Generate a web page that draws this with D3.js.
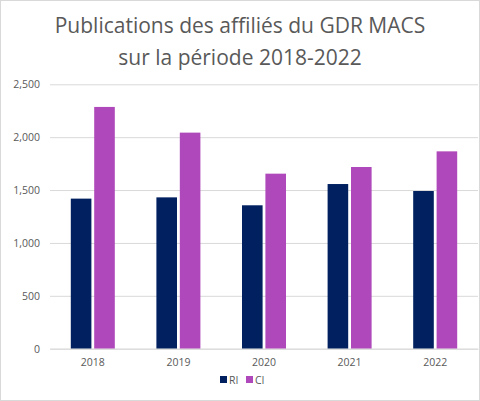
<!DOCTYPE html>
<html><head><meta charset="utf-8">
<script src="https://cdn.jsdelivr.net/npm/d3@7"></script>
<style>body{margin:0;background:#fff;font-family:"Open Sans",sans-serif;}</style>
</head><body><div id="chart"></div>
<script>
const years = ["2018", "2019", "2020", "2021", "2022"];
const ri = [1419, 1431, 1356, 1557, 1491];
const ci = [2286, 2043, 1655, 1718, 1866];
const yTicks = [0, 500, 1000, 1500, 2000, 2500];
const seriesNames = ["RI", "CI"];
const colors = ["#002060", "#AF48BA"];

const width = 480, height = 401;
const marginLeft = 50, marginRight = 2, marginTop = 84.3, bottomY = 348.7;

const svg = d3.select("#chart").append("svg")
  .attr("width", width).attr("height", height);

svg.append("rect").attr("x", 0.5).attr("y", 0.5)
  .attr("width", width - 1).attr("height", height - 1)
  .attr("fill", "#fff").attr("stroke", "#d9d9d9");

svg.append("text").attr("x", 240).attr("y", 33)
  .attr("text-anchor", "middle").attr("fill", "#595959")
  .attr("font-size", 21).text("Publications des affiliés du GDR MACS");
svg.append("text").attr("x", 240).attr("y", 65)
  .attr("text-anchor", "middle").attr("fill", "#595959")
  .attr("font-size", 21).text("sur la période 2018-2022");

const x = d3.scaleBand().domain(years).range([marginLeft, width - marginRight]);
const x1 = d3.scaleBand().domain(seriesNames).range([0, 44]).paddingInner(0.12);
const y = d3.scaleLinear().domain([0, 2500]).range([bottomY, marginTop]);

svg.append("g")
  .attr("transform", `translate(${marginLeft},0)`)
  .call(d3.axisLeft(y).tickValues(yTicks).tickSize(0).tickPadding(10))
  .call(g => g.select(".domain").remove())
  .call(g => g.selectAll(".tick line").clone()
    .attr("x2", width - marginLeft - marginRight).attr("stroke", "#d9d9d9"))
  .call(g => g.selectAll("text").attr("fill", "#595959").attr("font-size", 10.5)
    .attr("font-family", "Open Sans"));

const data = years.map((yr, i) => ({ yr, vals: [ri[i], ci[i]] }));
svg.append("g").selectAll("g").data(data).join("g")
  .attr("transform", d => `translate(${x(d.yr) + x.bandwidth() / 2 - 22},0)`)
  .selectAll("rect").data(d => d.vals.map((v, k) => ({ k, v })))
  .join("rect")
  .attr("x", d => x1(seriesNames[d.k]))
  .attr("width", x1.bandwidth())
  .attr("y", d => y(d.v))
  .attr("height", d => y(0) - y(d.v))
  .attr("fill", d => colors[d.k]);

svg.append("g")
  .attr("transform", `translate(0,${bottomY})`)
  .call(d3.axisBottom(x).tickSize(0).tickPadding(10))
  .call(g => g.select(".domain").attr("stroke", "#d9d9d9"))
  .call(g => g.selectAll("text").attr("fill", "#595959").attr("font-size", 10.5)
    .attr("font-family", "Open Sans"));

const legend = svg.append("g").attr("transform", "translate(220,381)");
seriesNames.forEach((n, i) => {
  const lg = legend.append("g").attr("transform", `translate(${i * 26},0)`);
  lg.append("rect").attr("x", 0).attr("y", -5).attr("width", 7).attr("height", 7).attr("fill", colors[i]);
  lg.append("text").attr("x", 9).attr("y", 3).attr("fill", "#595959")
    .attr("font-size", 10.5).text(n);
});
</script></body></html>
